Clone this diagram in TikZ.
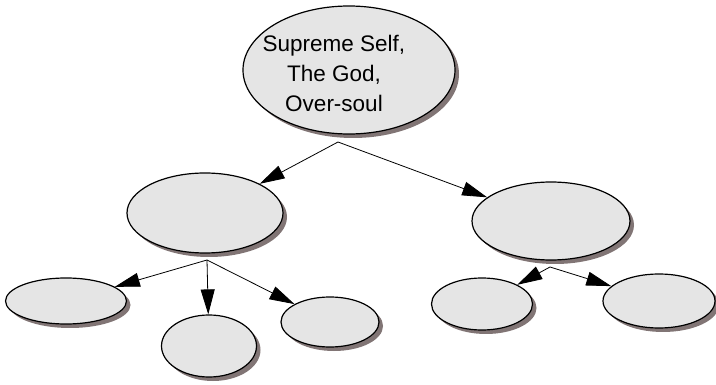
\documentclass[tikz,border=0pt]{standalone}
\usepackage{fontspec}
\setmainfont{Liberation Sans}
\usepackage{tikz}
\usetikzlibrary{shapes.geometric,shadows,arrows.meta}

\tikzset{
    blob/.style={ellipse,draw,line width=1.2pt,fill=black!10,inner sep=0pt,
        drop shadow={shadow xshift=4pt,shadow yshift=-4pt,fill=black!45!red!8!gray,opacity=1}},
    link/.style={->,line width=0.8pt}
}

\begin{document}
\begin{tikzpicture}[x=1pt,y=-1pt,>={Triangle[length=25pt,width=14pt]}]
    \useasboundingbox (0,0) rectangle (716,385);
    \node[blob,minimum width=212pt,minimum height=128pt] (S) at (349,70) {};
    \node[align=center,font=\fontsize{22.5}{30}\selectfont] (St) at (334,73) {Supreme Self,\\The God,\\Over-soul};
    \node[blob,minimum width=156pt,minimum height=80pt] (L) at (205,213) {};
    \node[blob,minimum width=158pt,minimum height=78pt] (R) at (551,221) {};
    \node[blob,minimum width=121pt,minimum height=46pt] (L1) at (66,301) {};
    \node[blob,minimum width=95pt,minimum height=62pt] (L2) at (209,346) {};
    \node[blob,minimum width=98pt,minimum height=50pt] (L3) at (330,322) {};
    \node[blob,minimum width=101pt,minimum height=52pt] (R1) at (482,304) {};
    \node[blob,minimum width=112pt,minimum height=54pt] (R2) at (659,301) {};
    \coordinate (Sf) at (338,142);
    \coordinate (Lf) at (207,260);
    \coordinate (Rf) at (550,267);
    \draw[link] (Sf) -- (L);
    \draw[link] (Sf) -- (R);
    \draw[link] (Lf) -- (L1);
    \draw[link] (Lf) -- (L2);
    \draw[link] (Lf) -- (L3);
    \draw[link] (Rf) -- (R1);
    \draw[link] (Rf) -- (R2);
\end{tikzpicture}
\end{document}
